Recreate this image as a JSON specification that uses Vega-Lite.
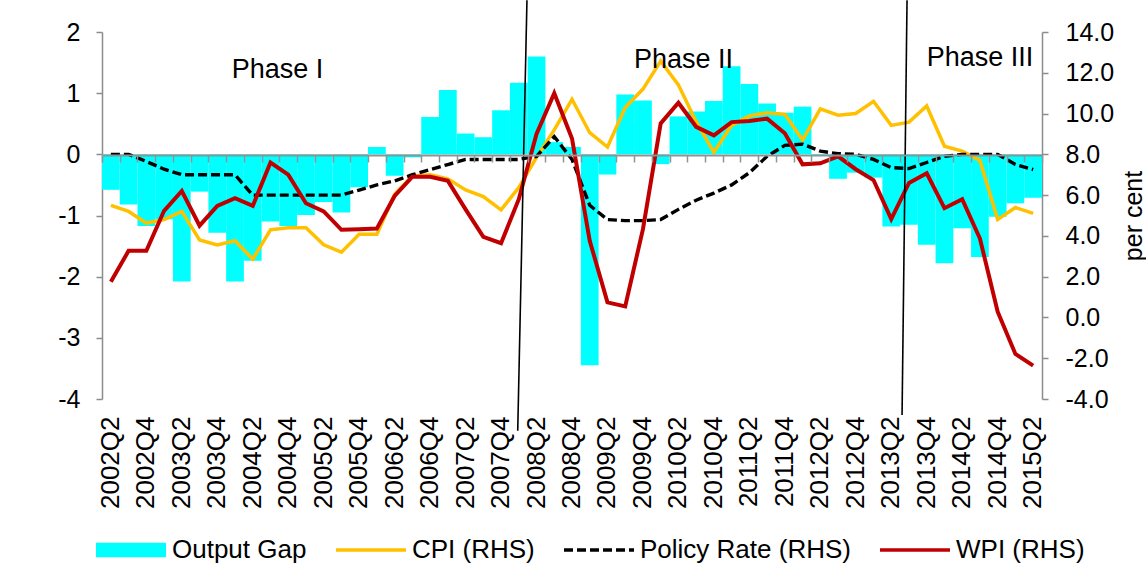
{
  "$schema": "https://vega.github.io/schema/vega-lite/v6.json",
  "width": 940,
  "height": 367,
  "autosize": {"type": "none"},
  "padding": {"left": 102, "top": 32, "right": 104, "bottom": 176},
  "background": "white",
  "config": {
    "view": {"stroke": null},
    "font": "Liberation Sans",
    "scale": {"bandPaddingInner": 0, "bandPaddingOuter": 0},
    "axis": {"labelFont": "Liberation Sans", "titleFont": "Liberation Sans", "labelColor": "#000000", "titleColor": "#000000", "grid": false, "domainColor": "#8c8c8c", "tickColor": "#8c8c8c"}
  },
  "layer": [
    {
      "data": {"values": [
        {"q":"2002Q2","gap":-0.58,"cpi":5.5,"policy":8.0,"wpi":1.75},
        {"q":"2002Q3","gap":-0.82,"cpi":5.2,"policy":8.0,"wpi":3.27},
        {"q":"2002Q4","gap":-1.17,"cpi":4.62,"policy":7.65,"wpi":3.27},
        {"q":"2003Q1","gap":-1.06,"cpi":4.8,"policy":7.27,"wpi":5.23},
        {"q":"2003Q2","gap":-2.08,"cpi":5.2,"policy":7.0,"wpi":6.2},
        {"q":"2003Q3","gap":-0.61,"cpi":3.8,"policy":7.0,"wpi":4.5},
        {"q":"2003Q4","gap":-1.28,"cpi":3.56,"policy":7.0,"wpi":5.47},
        {"q":"2004Q1","gap":-2.08,"cpi":3.76,"policy":7.0,"wpi":5.85},
        {"q":"2004Q2","gap":-1.74,"cpi":2.86,"policy":6.0,"wpi":5.47},
        {"q":"2004Q3","gap":-1.1,"cpi":4.3,"policy":6.0,"wpi":7.6},
        {"q":"2004Q4","gap":-1.17,"cpi":4.4,"policy":6.0,"wpi":7.0},
        {"q":"2005Q1","gap":-0.99,"cpi":4.4,"policy":6.0,"wpi":5.6},
        {"q":"2005Q2","gap":-0.78,"cpi":3.56,"policy":6.0,"wpi":5.2},
        {"q":"2005Q3","gap":-0.95,"cpi":3.2,"policy":6.0,"wpi":4.3},
        {"q":"2005Q4","gap":-0.54,"cpi":4.08,"policy":6.25,"wpi":4.33},
        {"q":"2006Q1","gap":0.12,"cpi":4.08,"policy":6.5,"wpi":4.36},
        {"q":"2006Q2","gap":-0.35,"cpi":6.04,"policy":6.7,"wpi":5.96},
        {"q":"2006Q3","gap":-0.05,"cpi":6.94,"policy":7.0,"wpi":6.9},
        {"q":"2006Q4","gap":0.61,"cpi":7.0,"policy":7.25,"wpi":6.9},
        {"q":"2007Q1","gap":1.05,"cpi":6.8,"policy":7.5,"wpi":6.7},
        {"q":"2007Q2","gap":0.34,"cpi":6.25,"policy":7.75,"wpi":5.3},
        {"q":"2007Q3","gap":0.28,"cpi":5.93,"policy":7.75,"wpi":3.95},
        {"q":"2007Q4","gap":0.72,"cpi":5.28,"policy":7.75,"wpi":3.64},
        {"q":"2008Q1","gap":1.17,"cpi":6.37,"policy":7.75,"wpi":5.8},
        {"q":"2008Q2","gap":1.6,"cpi":7.85,"policy":7.9,"wpi":9.0},
        {"q":"2008Q3","gap":0.2,"cpi":9.2,"policy":8.87,"wpi":11.0},
        {"q":"2008Q4","gap":0.12,"cpi":10.7,"policy":7.75,"wpi":8.78},
        {"q":"2009Q1","gap":-3.45,"cpi":9.06,"policy":5.5,"wpi":3.76},
        {"q":"2009Q2","gap":-0.33,"cpi":8.36,"policy":4.8,"wpi":0.74},
        {"q":"2009Q3","gap":0.98,"cpi":10.3,"policy":4.75,"wpi":0.54},
        {"q":"2009Q4","gap":0.88,"cpi":11.2,"policy":4.75,"wpi":4.33},
        {"q":"2010Q1","gap":-0.16,"cpi":12.57,"policy":4.8,"wpi":9.52},
        {"q":"2010Q2","gap":0.62,"cpi":11.4,"policy":5.3,"wpi":10.53},
        {"q":"2010Q3","gap":0.7,"cpi":9.6,"policy":5.75,"wpi":9.35},
        {"q":"2010Q4","gap":0.87,"cpi":8.1,"policy":6.1,"wpi":8.93},
        {"q":"2011Q1","gap":1.44,"cpi":9.42,"policy":6.5,"wpi":9.58},
        {"q":"2011Q2","gap":1.15,"cpi":9.88,"policy":7.1,"wpi":9.63},
        {"q":"2011Q3","gap":0.83,"cpi":10.04,"policy":7.9,"wpi":9.75},
        {"q":"2011Q4","gap":0.68,"cpi":9.96,"policy":8.44,"wpi":9.03},
        {"q":"2012Q1","gap":0.78,"cpi":8.7,"policy":8.5,"wpi":7.51},
        {"q":"2012Q2","gap":-0.02,"cpi":10.23,"policy":8.16,"wpi":7.56},
        {"q":"2012Q3","gap":-0.4,"cpi":9.92,"policy":8.03,"wpi":7.9},
        {"q":"2012Q4","gap":-0.3,"cpi":10.0,"policy":8.0,"wpi":7.27},
        {"q":"2013Q1","gap":-0.38,"cpi":10.6,"policy":7.75,"wpi":6.74},
        {"q":"2013Q2","gap":-1.18,"cpi":9.42,"policy":7.35,"wpi":4.82},
        {"q":"2013Q3","gap":-1.15,"cpi":9.58,"policy":7.3,"wpi":6.6},
        {"q":"2013Q4","gap":-1.48,"cpi":10.37,"policy":7.6,"wpi":7.07},
        {"q":"2014Q1","gap":-1.78,"cpi":8.4,"policy":7.9,"wpi":5.36},
        {"q":"2014Q2","gap":-1.21,"cpi":8.16,"policy":8.0,"wpi":5.8},
        {"q":"2014Q3","gap":-1.68,"cpi":7.7,"policy":8.0,"wpi":3.87},
        {"q":"2014Q4","gap":-1.02,"cpi":4.8,"policy":8.0,"wpi":0.28},
        {"q":"2015Q1","gap":-0.8,"cpi":5.39,"policy":7.5,"wpi":-1.79},
        {"q":"2015Q2","gap":-0.71,"cpi":5.1,"policy":7.25,"wpi":-2.36}
      ]},
      "layer": [
        {
          "mark": {"type": "bar", "fill": "#00FFFF", "strokeWidth": 0},
          "encoding": {
            "x": {"field": "q", "type": "ordinal", "axis": {"orient": "bottom", "offset": -244, "labels": false, "ticks": true, "tickBand": "extent", "tickSize": 7, "tickWidth": 1.5, "domain": true, "domainWidth": 2, "domainColor": "#8c9494", "tickColor": "#8c9494", "title": null, "zindex": 2}},
            "y": {"field": "gap", "type": "quantitative", "scale": {"domain": [-4, 2], "nice": false, "zero": false}, "axis": {"orient": "left", "values": [-4, -3, -2, -1, 0, 1, 2], "labelExpr": "datum.value < 0 ? '-' + format(-datum.value, 'd') : format(datum.value, 'd')", "tickSize": 6, "labelPadding": 16, "labelFontSize": 25, "domainWidth": 1.5, "tickWidth": 1.5, "title": null}},
            "color": {"datum": "Output Gap", "type": "nominal",
              "scale": {"domain": ["Output Gap", "CPI (RHS)", "Policy Rate (RHS)", "WPI (RHS)"], "range": ["#00FFFF", "#FFC000", "#000000", "#C00000"]},
              "legend": {
                "orient": "none", "legendX": -6, "legendY": 505, "direction": "horizontal", "title": null,
                "padding": 0, "symbolType": "stroke", "symbolSize": 4900, "symbolStrokeWidth": 3.5,
                "labelFontSize": 26, "labelFont": "Liberation Sans", "labelColor": "#000000", "labelLimit": 400,
                "labelOffset": 6, "columnPadding": 22,
                "encode": {
                  "symbols": {"update": {
                    "x": {"value": 35},
                    "shape": {"signal": "datum.value === 'Output Gap' ? 'M-1,-0.21H1V0.21H-1Z' : 'stroke'"},
                    "fill": {"signal": "datum.value === 'Output Gap' ? '#00FFFF' : 'transparent'"},
                    "stroke": {"scale": "color", "field": "value"},
                    "strokeWidth": {"signal": "datum.value === 'Output Gap' ? 0 : 3.5"},
                    "strokeDash": {"signal": "datum.value === 'Policy Rate (RHS)' ? [9, 4] : [1, 0]"},
                    "opacity": {"value": 1}
                  }},
                  "labels": {"update": {"x": {"value": 76}}}
                }
              }
            }
          }
        },
        {
          "mark": {"type": "line", "strokeWidth": 3.5},
          "encoding": {
            "x": {"field": "q", "type": "ordinal", "axis": {"orient": "bottom", "domain": false, "ticks": false, "tickSize": 0, "labelAngle": -90, "labelFontSize": 26, "labelPadding": 17, "title": null,
              "values": ["2002Q2","2002Q4","2003Q2","2003Q4","2004Q2","2004Q4","2005Q2","2005Q4","2006Q2","2006Q4","2007Q2","2007Q4","2008Q2","2008Q4","2009Q2","2009Q4","2010Q2","2010Q4","2011Q2","2011Q4","2012Q2","2012Q4","2013Q2","2013Q4","2014Q2","2014Q4","2015Q2"]}},
            "y": {"field": "cpi", "type": "quantitative", "scale": {"domain": [-4, 14], "nice": false, "zero": false}, "axis": {"orient": "right", "values": [-4, -2, 0, 2, 4, 6, 8, 10, 12, 14], "labelExpr": "datum.value < 0 ? '-' + format(-datum.value, '.1f') : format(datum.value, '.1f')", "tickSize": 6, "labelPadding": 17, "labelFontSize": 25, "domainWidth": 1.5, "tickWidth": 1.5, "title": "per cent", "titleFontSize": 25, "titleFontWeight": "normal", "titleAngle": 270, "titleBaseline": "top", "titlePadding": 8}},
            "color": {"datum": "CPI (RHS)", "type": "nominal"}
          }
        },
        {
          "mark": {"type": "line", "strokeWidth": 3.4, "strokeDash": [9, 4]},
          "encoding": {
            "x": {"field": "q", "type": "ordinal", "axis": null},
            "y": {"field": "policy", "type": "quantitative", "scale": {"domain": [-4, 14], "nice": false, "zero": false}, "axis": null},
            "color": {"datum": "Policy Rate (RHS)", "type": "nominal"}
          }
        },
        {
          "mark": {"type": "line", "strokeWidth": 4},
          "encoding": {
            "x": {"field": "q", "type": "ordinal", "axis": null},
            "y": {"field": "wpi", "type": "quantitative", "scale": {"domain": [-4, 14], "nice": false, "zero": false}, "axis": null},
            "color": {"datum": "WPI (RHS)", "type": "nominal"}
          }
        },
        {
          "data": {"values": [{}]},
          "mark": {"type": "text", "text": "Phase I", "fontSize": 27, "font": "Liberation Sans", "align": "center", "baseline": "alphabetic", "dx": 7, "color": "#000000"},
          "encoding": {
            "x": {"datum": "2004Q3", "type": "ordinal", "axis": null},
            "y": {"datum": 1.24, "type": "quantitative", "scale": {"domain": [-4, 2], "nice": false, "zero": false}, "axis": null}
          }
        },
        {
          "data": {"values": [{}]},
          "mark": {"type": "text", "text": "Phase II", "fontSize": 27, "font": "Liberation Sans", "align": "center", "baseline": "alphabetic", "dx": 5, "color": "#000000"},
          "encoding": {
            "x": {"datum": "2010Q2", "type": "ordinal", "axis": null},
            "y": {"datum": 1.41, "type": "quantitative", "scale": {"domain": [-4, 2], "nice": false, "zero": false}, "axis": null}
          }
        },
        {
          "data": {"values": [{}]},
          "mark": {"type": "text", "text": "Phase III", "fontSize": 27, "font": "Liberation Sans", "align": "center", "baseline": "alphabetic", "dx": 0, "color": "#000000"},
          "encoding": {
            "x": {"datum": "2014Q3", "type": "ordinal", "axis": null},
            "y": {"datum": 1.44, "type": "quantitative", "scale": {"domain": [-4, 2], "nice": false, "zero": false}, "axis": null}
          }
        }
      ],
      "resolve": {"scale": {"y": "independent"}, "axis": {"x": "independent", "y": "independent"}}
    },
    {
      "data": {"values": [
        {"xa": 23.96, "xb": 23.44, "ya": 2.52, "yb": -4.52},
        {"xa": 45.39, "xb": 45.11, "ya": 2.52, "yb": -4.26}
      ]},
      "mark": {"type": "rule", "color": "#000000", "strokeWidth": 1.6},
      "encoding": {
        "x": {"field": "xa", "type": "quantitative", "scale": {"domain": [0, 53], "nice": false, "zero": false}, "axis": null},
        "x2": {"field": "xb"},
        "y": {"field": "ya", "type": "quantitative", "scale": {"domain": [-4, 2], "nice": false, "zero": false}, "axis": null},
        "y2": {"field": "yb"}
      }
    }
  ],
  "resolve": {"scale": {"x": "independent", "y": "independent"}}
}
